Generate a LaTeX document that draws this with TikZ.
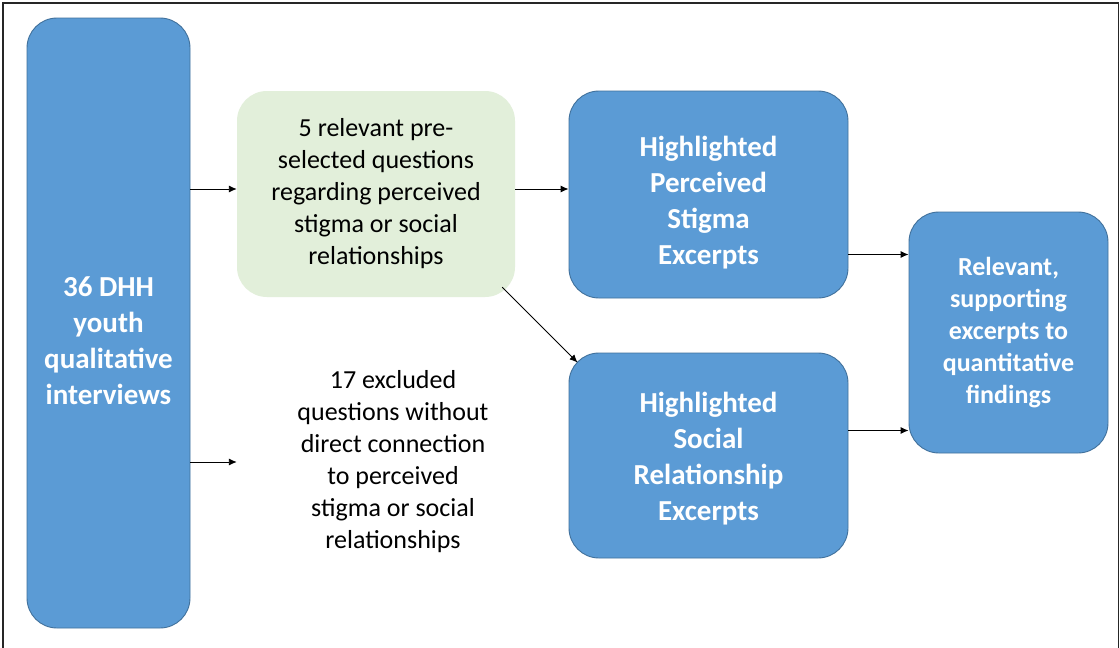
\documentclass[tikz,border=0pt]{standalone}
\usepackage{fontspec}
\setmainfont{Carlito}
\usetikzlibrary{arrows.meta}
\definecolor{boxblue}{RGB}{91,155,213}
\definecolor{boxedge}{RGB}{65,113,156}
\definecolor{boxgreen}{RGB}{226,239,218}
\begin{document}
\begin{tikzpicture}[x=1pt,y=-1pt,
  bluebox/.style={draw=boxedge, line width=0.9pt, fill=boxblue, rounded corners=30pt,
    text=white, font=\bfseries\fontsize{29}{36}\selectfont, align=center, inner sep=0pt},
  greenbox/.style={fill=boxgreen, rounded corners=30pt, text=black,
    font=\fontsize{26}{32}\selectfont, align=center, inner sep=0pt},
  plaintext/.style={text=black, font=\fontsize{26}{32}\selectfont, align=center, inner sep=0pt},
  arr/.style={-{Latex[length=8pt,width=7pt]}, line width=0.9pt, black}]
\useasboundingbox (0,0) rectangle (1120,648);
\fill[white] (0,0) rectangle (1120,648);
\draw[line width=1.5pt, black!85] (3,3) rectangle (1118.5,690);

\node[bluebox, minimum width=163, minimum height=610] (src) at (108.5,323) {\rule{0pt}{54.8pt}36 DHH\\youth\\qualitative\\interviews};
\node[greenbox, minimum width=278, minimum height=206] (green) at (376,194) {5 relevant pre-\\selected questions\\regarding perceived\\stigma or social\\relationships};
\node[plaintext, minimum width=312] (excl) at (393,462) {17 excluded\\questions without\\direct connection\\to perceived\\stigma or social\\relationships};
\node[bluebox, minimum width=279, minimum height=207] (b1) at (708.5,194.5) {\rule{0pt}{37.4pt}Highlighted\\Perceived\\Stigma\\Excerpts};
\node[bluebox, minimum width=279, minimum height=205] (b2) at (708.5,455.5) {\rule{0pt}{27.4pt}Highlighted\\Social\\Relationship\\Excerpts};
\node[bluebox, minimum width=199, minimum height=241, font=\bfseries\fontsize{26}{32}\selectfont] (r) at (1008.5,332.5) {Relevant,\\supporting\\excerpts to\\quantitative\\findings};

\draw[arr] ([shift={(0,-5)}]green.west -| src.east) -- ([shift={(0,-5)}]green.west);
\draw[arr] (excl.west -| src.east) -- (excl.west);
\draw[arr] ([shift={(0,-5)}]green.east) -- ([shift={(0,-5)}]green.east -| b1.west);
\draw[arr] ([shift={(-13,-10)}]green.south east) -- ([shift={(9,10)}]b2.north west);
\draw[arr] ([shift={(0,60)}]b1.east) -- ([shift={(0,60)}]b1.east -| r.west);
\draw[arr] ([shift={(0,-25)}]b2.east) -- ([shift={(0,-25)}]b2.east -| r.west);
\end{tikzpicture}
\end{document}
